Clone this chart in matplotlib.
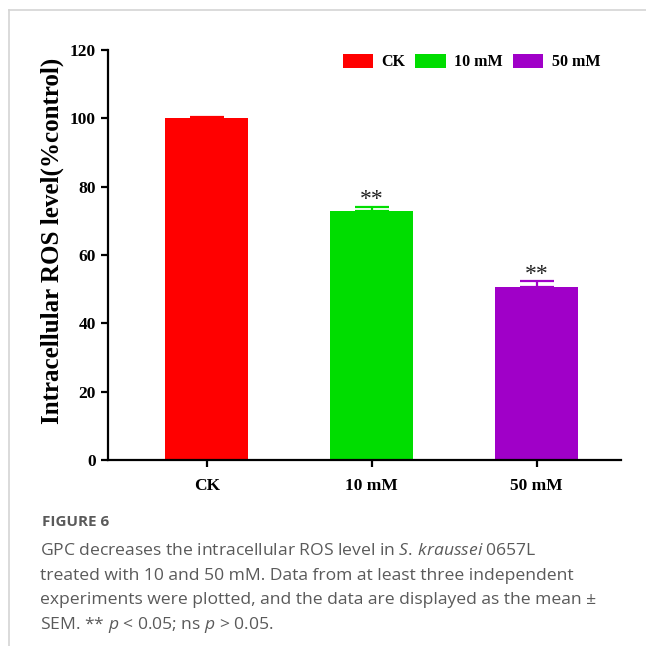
import matplotlib

matplotlib.use("Agg")
import matplotlib.pyplot as plt  # noqa: E402
from matplotlib.lines import Line2D  # noqa: E402
from matplotlib.patches import Patch  # noqa: E402

groups = ["CK", "10 mM", "50 mM"]
ros_level = [100.0, 72.8, 50.7]
ros_sem = [0.5, 1.3, 1.6]
marks = ["", "**", "**"]
colors = ["#ff0000", "#00dd00", "#a000c8"]

caption_lines = [
    r"GPC decreases the intracellular ROS level in $\mathit{S.\,kraussei}$ 0657L",
    "treated with 10 and 50 mM. Data from at least three independent",
    "experiments were plotted, and the data are displayed as the mean ±",
    r"SEM. ** $\mathit{p}$ < 0.05; ns $\mathit{p}$ > 0.05.",
]

plt.rcParams["font.family"] = ["Liberation Serif", "DejaVu Serif"]
plt.rcParams["mathtext.fontset"] = "custom"
plt.rcParams["mathtext.rm"] = "Open Sans"
plt.rcParams["mathtext.it"] = "Open Sans:italic"

W = H = 646
fig = plt.figure(figsize=(W / 100, H / 100), dpi=100)
ax = fig.add_axes([107.7 / W, 1 - 460 / H, (620.8 - 107.7) / W, 410 / H])

x = list(range(len(groups)))
ax.bar(x, ros_level, width=0.505, color=colors, edgecolor="none", zorder=2)
for xi, v, e, c, m in zip(x, ros_level, ros_sem, colors, marks):
    ax.errorbar(xi, v, yerr=[[0], [e]], fmt="none", ecolor=c, elinewidth=1.6,
                capsize=12.5, capthick=1.6, zorder=3)
    if m:
        ax.text(xi, v + e + 0.5, m, ha="center", va="baseline", fontsize=17,
                color="#222222")

ax.set_xlim(-0.60, 2.51)
ax.set_ylim(0, 120)
ax.set_yticks(range(0, 121, 20))
ax.set_xticks(x, groups)
ax.spines[["top", "right"]].set_visible(False)
for s in ("left", "bottom"):
    ax.spines[s].set_linewidth(1.6)
ax.tick_params(width=1.6, length=5, labelsize=12.5)
ax.tick_params(axis="x", pad=8)
for lab in ax.get_xticklabels() + ax.get_yticklabels():
    lab.set_fontweight("bold")
ax.set_ylabel("Intracellular ROS level(%control)", fontsize=18,
              fontweight="bold")
ax.yaxis.set_label_coords(-0.085, 0.534)

handles = [Patch(facecolor=c, edgecolor="none") for c in colors]
ax.legend(handles, groups, loc="center right", bbox_to_anchor=(0.96, 0.97),
          ncol=3, frameon=False, handlelength=1.9, handleheight=0.95,
          columnspacing=0.6, handletextpad=0.55, borderpad=0, borderaxespad=0,
          prop={"weight": "bold", "size": 11.5})

# page frame and caption
fig.add_artist(Line2D([9 / W, 1], [1 - 10 / H] * 2, color="#d4d4d4", lw=1.2))
fig.add_artist(Line2D([9 / W] * 2, [0, 1 - 10 / H], color="#d4d4d4", lw=1.2))
fig.text(42 / W, 1 - 522 / H, "FIGURE 6", family="Open Sans", fontweight="bold",
         fontsize=11, color="#5a5a5a", va="center")
for i, line in enumerate(caption_lines):
    fig.text(40 / W, 1 - (551 + 24.7 * i) / H, line, family="Open Sans",
             fontsize=12.6, color="#5a5a5a", va="center")

fig.savefig("out.png", dpi=100)
